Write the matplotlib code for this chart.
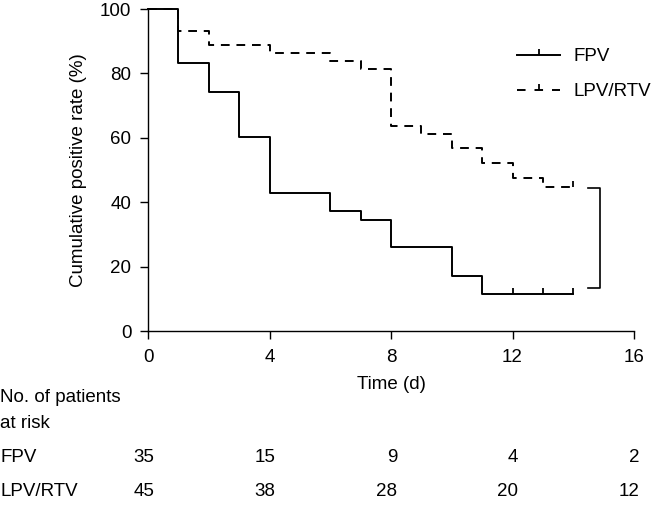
import matplotlib
matplotlib.use("Agg")
import matplotlib.pyplot as plt
from matplotlib.path import Path
from matplotlib.lines import Line2D
from matplotlib.transforms import offset_copy, blended_transform_factory

plt.rcParams['font.family'] = ['Liberation Sans', 'DejaVu Sans']
FS = 13.5

# step curves (time in days, cumulative positive rate in %)
fpv_times = [0, 1, 2, 3, 4, 6, 7, 8, 10, 11, 14]
fpv_rates = [100, 83.2, 74.2, 60.2, 42.9, 37.3, 34.5, 26.0, 17.2, 11.5, 11.5]
fpv_censored = [12, 13, 14]

lpv_times = [0, 1, 2, 4, 6, 7, 8, 9, 10, 11, 12, 13, 14]
lpv_rates = [100, 93.2, 88.8, 86.4, 83.9, 81.4, 63.7, 61.1, 56.7, 52.1, 47.6, 44.8, 44.8]
lpv_censored = [14]

# bracket comparing the two curves at the end
bracket_x = [14.49, 14.88]
bracket_y = [44.3, 13.3]

# number at risk table
risk_times = [0, 4, 8, 12, 16]
risk_fpv = [35, 15, 9, 4, 2]
risk_lpv = [45, 38, 28, 20, 12]

tick_up = Path([[0, 0], [0, 1]])

fig = plt.figure(figsize=(6.55, 5.21), dpi=100)
ax = fig.add_axes([148 / 655, 1 - 331 / 521, (634 - 148) / 655, (331 - 9) / 521])

ax.step(fpv_times, fpv_rates, where='post', color='black', lw=1.4, clip_on=False)
ax.plot(fpv_censored, [fpv_rates[-1]] * len(fpv_censored), ls='none',
        marker=tick_up, ms=8, mew=1.3, color='black', clip_on=False)

ax.step(lpv_times, lpv_rates, where='post', color='black', lw=1.4,
        dashes=(4.5, 3.5), clip_on=False)
ax.plot(lpv_censored, [lpv_rates[-1]] * len(lpv_censored), ls='none',
        marker=tick_up, ms=8, mew=1.3, color='black', clip_on=False)

ax.plot([bracket_x[0], bracket_x[1], bracket_x[1], bracket_x[0]],
        [bracket_y[0], bracket_y[0], bracket_y[1], bracket_y[1]],
        color='black', lw=1.2, clip_on=False)

ax.set_xlim(0, 16)
ax.set_ylim(0, 100)
ax.set_xticks([0, 4, 8, 12, 16])
ax.set_yticks([0, 20, 40, 60, 80, 100])
ax.spines['top'].set_visible(False)
ax.spines['right'].set_visible(False)
for s in ['left', 'bottom']:
    ax.spines[s].set_linewidth(1.0)
ax.tick_params(direction='out', length=6, width=1.0, labelsize=FS)
ax.tick_params(axis='x', pad=7)
ax.tick_params(axis='y', pad=6)
ax.set_xlabel('Time (d)', fontsize=FS, labelpad=7)
ax.set_ylabel('Cumulative positive rate (%)', fontsize=FS, labelpad=9)

handles = [
    Line2D([], [], color='black', lw=1.4, marker=tick_up, ms=8, mew=1.3),
    Line2D([], [], color='black', lw=1.4, dashes=(4.4, 4.6), marker=tick_up, ms=8, mew=1.3),
]
ax.legend(handles, ['FPV', 'LPV/RTV'], loc='upper left',
          bbox_to_anchor=(517 / 655, 1 - 48 / 521), bbox_transform=fig.transFigure,
          frameon=False, numpoints=1, handlelength=2.3, handletextpad=0.7,
          labelspacing=0.95, borderpad=0, borderaxespad=0, fontsize=FS)

# risk table
fig.text(0, 1 - 398 / 521, 'No. of patients', fontsize=FS, va='center', ha='left')
fig.text(0, 1 - 423 / 521, 'at risk', fontsize=FS, va='center', ha='left')
row_y = [1 - 457 / 521, 1 - 492 / 521]
trans = offset_copy(blended_transform_factory(ax.transData, fig.transFigure),
                    fig=fig, x=6, y=0, units='dots')
for name, vals, yy in zip(['FPV', 'LPV/RTV'], [risk_fpv, risk_lpv], row_y):
    fig.text(0, yy, name, fontsize=FS, va='center', ha='left')
    for t, v in zip(risk_times, vals):
        fig.text(t, yy, str(v), fontsize=FS, va='center', ha='right', transform=trans)

fig.savefig('out.png', dpi=100)
